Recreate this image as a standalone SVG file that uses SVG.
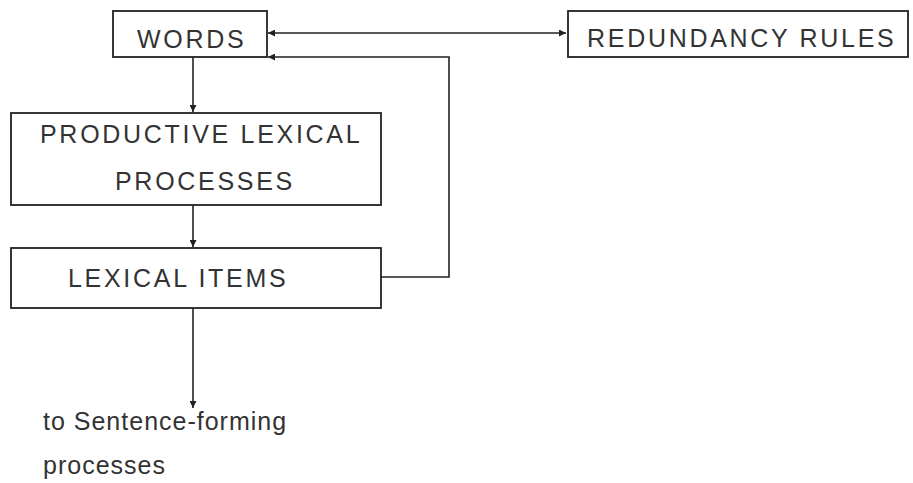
<svg xmlns="http://www.w3.org/2000/svg" width="913" height="483" viewBox="0 0 913 483">
<style>
.box{fill:none;stroke:#222;stroke-width:1.8}
.lbl{font-family:"Liberation Sans",Arial,sans-serif;font-size:25px;letter-spacing:2.7px;fill:#333}
.txt{font-family:"Liberation Sans",Arial,sans-serif;font-size:25px;letter-spacing:1px;fill:#333}
.ln{fill:none;stroke:#222;stroke-width:1.6}
</style>
<defs>
<marker id="ah" viewBox="0 0 10 10" refX="10" refY="5" markerWidth="11" markerHeight="7" markerUnits="userSpaceOnUse" orient="auto-start-reverse">
<path d="M0,0 L10,5 L0,10 Z" fill="#222"/>
</marker>
</defs>
<rect width="913" height="483" fill="#fff"/>
<g id="connectors">
<line class="ln" x1="268" y1="33" x2="566" y2="33" marker-start="url(#ah)" marker-end="url(#ah)"/>
<line class="ln" x1="193" y1="57" x2="193" y2="112" marker-end="url(#ah)"/>
<line class="ln" x1="193" y1="205" x2="193" y2="247" marker-end="url(#ah)"/>
<path class="ln" d="M381,277 H449 V57 H268" marker-end="url(#ah)"/>
<line class="ln" x1="193" y1="308" x2="193" y2="408" marker-end="url(#ah)"/>
</g>
<g id="words">
<rect class="box" x="113" y="11" width="154" height="46"/>
<text class="lbl" x="137" y="48">WORDS</text>
</g>
<g id="redundancy">
<rect class="box" x="568" y="11" width="340" height="46"/>
<text class="lbl" x="587" y="47">REDUNDANCY RULES</text>
</g>
<g id="productive">
<rect class="box" x="11" y="113" width="370" height="92"/>
<text class="lbl" x="40" y="143">PRODUCTIVE LEXICAL</text>
<text class="lbl" x="115" y="190">PROCESSES</text>
</g>
<g id="items">
<rect class="box" x="11" y="248" width="370" height="60"/>
<text class="lbl" x="68" y="287">LEXICAL ITEMS</text>
</g>
<g id="output">
<text class="txt" x="43" y="430">to Sentence-forming</text>
<text class="txt" x="43" y="474">processes</text>
</g>
</svg>
